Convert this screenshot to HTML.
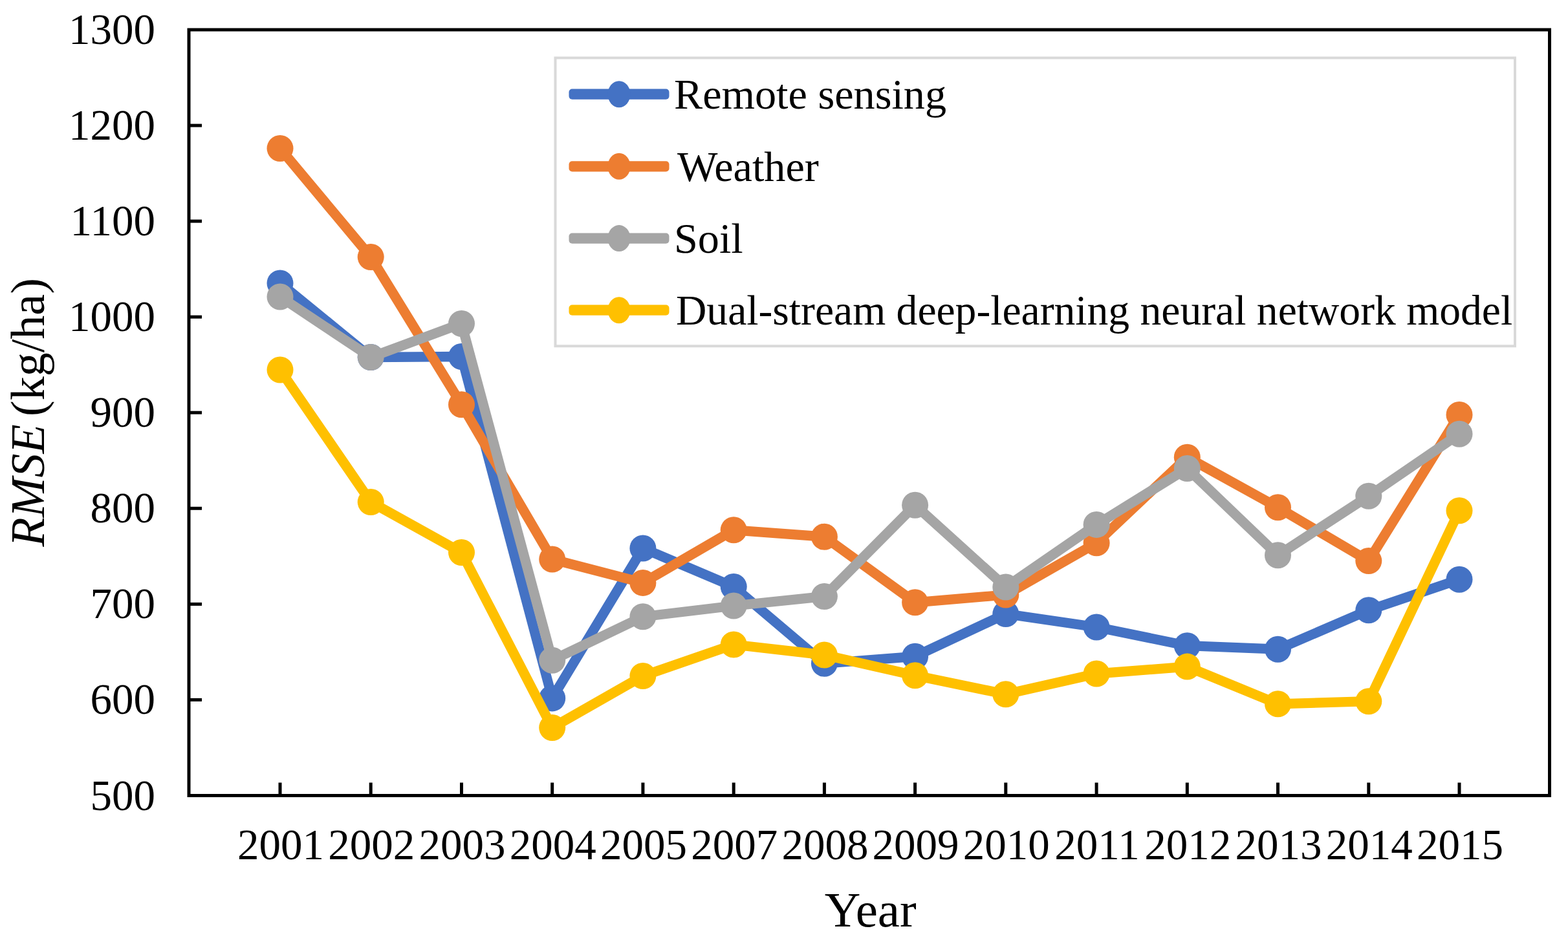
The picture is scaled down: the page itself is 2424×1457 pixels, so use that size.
<!DOCTYPE html>
<html><head><meta charset="utf-8"><title>RMSE chart</title>
<style>
html,body{margin:0;padding:0;background:#fff;}
svg{display:block;}
text{font-family:"Liberation Serif","Times New Roman",serif;fill:#000;}
</style></head><body>
<svg width="2424" height="1457" viewBox="0 0 2424 1457">
<rect x="0" y="0" width="2424" height="1457" fill="#fff"/>
<rect x="292" y="46" width="2103.5" height="1184.5" fill="none" stroke="#000" stroke-width="5"/>
<line x1="292" y1="1082.4" x2="312" y2="1082.4" stroke="#000" stroke-width="5"/>
<line x1="292" y1="934.4" x2="312" y2="934.4" stroke="#000" stroke-width="5"/>
<line x1="292" y1="786.3" x2="312" y2="786.3" stroke="#000" stroke-width="5"/>
<line x1="292" y1="638.2" x2="312" y2="638.2" stroke="#000" stroke-width="5"/>
<line x1="292" y1="490.2" x2="312" y2="490.2" stroke="#000" stroke-width="5"/>
<line x1="292" y1="342.1" x2="312" y2="342.1" stroke="#000" stroke-width="5"/>
<line x1="292" y1="194.1" x2="312" y2="194.1" stroke="#000" stroke-width="5"/>
<line x1="433.0" y1="1230.5" x2="433.0" y2="1210.5" stroke="#000" stroke-width="5"/>
<line x1="573.2" y1="1230.5" x2="573.2" y2="1210.5" stroke="#000" stroke-width="5"/>
<line x1="713.5" y1="1230.5" x2="713.5" y2="1210.5" stroke="#000" stroke-width="5"/>
<line x1="853.7" y1="1230.5" x2="853.7" y2="1210.5" stroke="#000" stroke-width="5"/>
<line x1="993.9" y1="1230.5" x2="993.9" y2="1210.5" stroke="#000" stroke-width="5"/>
<line x1="1134.2" y1="1230.5" x2="1134.2" y2="1210.5" stroke="#000" stroke-width="5"/>
<line x1="1274.4" y1="1230.5" x2="1274.4" y2="1210.5" stroke="#000" stroke-width="5"/>
<line x1="1414.6" y1="1230.5" x2="1414.6" y2="1210.5" stroke="#000" stroke-width="5"/>
<line x1="1554.8" y1="1230.5" x2="1554.8" y2="1210.5" stroke="#000" stroke-width="5"/>
<line x1="1695.1" y1="1230.5" x2="1695.1" y2="1210.5" stroke="#000" stroke-width="5"/>
<line x1="1835.3" y1="1230.5" x2="1835.3" y2="1210.5" stroke="#000" stroke-width="5"/>
<line x1="1975.5" y1="1230.5" x2="1975.5" y2="1210.5" stroke="#000" stroke-width="5"/>
<line x1="2115.8" y1="1230.5" x2="2115.8" y2="1210.5" stroke="#000" stroke-width="5"/>
<line x1="2256.0" y1="1230.5" x2="2256.0" y2="1210.5" stroke="#000" stroke-width="5"/>
<text x="240" y="1252.5" font-size="67" text-anchor="end">500</text>
<text x="240" y="1104.4" font-size="67" text-anchor="end">600</text>
<text x="240" y="956.4" font-size="67" text-anchor="end">700</text>
<text x="240" y="808.3" font-size="67" text-anchor="end">800</text>
<text x="240" y="660.2" font-size="67" text-anchor="end">900</text>
<text x="240" y="512.2" font-size="67" text-anchor="end">1000</text>
<text x="240" y="364.1" font-size="67" text-anchor="end">1100</text>
<text x="240" y="216.1" font-size="67" text-anchor="end">1200</text>
<text x="240" y="68.0" font-size="67" text-anchor="end">1300</text>
<text x="434.0" y="1329" font-size="67" text-anchor="middle">2001</text>
<text x="574.2" y="1329" font-size="67" text-anchor="middle">2002</text>
<text x="714.5" y="1329" font-size="67" text-anchor="middle">2003</text>
<text x="854.7" y="1329" font-size="67" text-anchor="middle">2004</text>
<text x="994.9" y="1329" font-size="67" text-anchor="middle">2005</text>
<text x="1135.2" y="1329" font-size="67" text-anchor="middle">2007</text>
<text x="1275.4" y="1329" font-size="67" text-anchor="middle">2008</text>
<text x="1415.6" y="1329" font-size="67" text-anchor="middle">2009</text>
<text x="1555.8" y="1329" font-size="67" text-anchor="middle">2010</text>
<text x="1696.1" y="1329" font-size="67" text-anchor="middle">2011</text>
<text x="1836.3" y="1329" font-size="67" text-anchor="middle">2012</text>
<text x="1976.5" y="1329" font-size="67" text-anchor="middle">2013</text>
<text x="2116.8" y="1329" font-size="67" text-anchor="middle">2014</text>
<text x="2257.0" y="1329" font-size="67" text-anchor="middle">2015</text>
<text x="1345.7" y="1433" font-size="77" text-anchor="middle">Year</text>
<text transform="translate(68,637.8) rotate(-90)" x="0" y="0" font-size="74" text-anchor="middle"><tspan font-style="italic">RMSE</tspan><tspan dx="-6"> (kg/ha)</tspan></text>
<g><polyline points="433.0,438.0 573.2,552.5 713.5,551.5 853.7,1079.9 993.9,848.0 1134.2,907.5 1274.4,1026.2 1414.6,1015.3 1554.8,949.5 1695.1,970.0 1835.3,998.7 1975.5,1004.2 2115.8,943.8 2256.0,896.2" fill="none" stroke="#4472C4" stroke-width="15.3" stroke-linejoin="round" stroke-linecap="round"/>
<circle cx="433.0" cy="438.0" r="20.5" fill="#4472C4"/><circle cx="573.2" cy="552.5" r="20.5" fill="#4472C4"/><circle cx="713.5" cy="551.5" r="20.5" fill="#4472C4"/><circle cx="853.7" cy="1079.9" r="20.5" fill="#4472C4"/><circle cx="993.9" cy="848.0" r="20.5" fill="#4472C4"/><circle cx="1134.2" cy="907.5" r="20.5" fill="#4472C4"/><circle cx="1274.4" cy="1026.2" r="20.5" fill="#4472C4"/><circle cx="1414.6" cy="1015.3" r="20.5" fill="#4472C4"/><circle cx="1554.8" cy="949.5" r="20.5" fill="#4472C4"/><circle cx="1695.1" cy="970.0" r="20.5" fill="#4472C4"/><circle cx="1835.3" cy="998.7" r="20.5" fill="#4472C4"/><circle cx="1975.5" cy="1004.2" r="20.5" fill="#4472C4"/><circle cx="2115.8" cy="943.8" r="20.5" fill="#4472C4"/><circle cx="2256.0" cy="896.2" r="20.5" fill="#4472C4"/></g>
<g><polyline points="433.0,229.5 573.2,397.5 713.5,625.8 853.7,865.0 993.9,901.4 1134.2,819.8 1274.4,830.2 1414.6,931.8 1554.8,920.0 1695.1,839.8 1835.3,707.2 1975.5,784.8 2115.8,867.5 2256.0,641.4" fill="none" stroke="#ED7D31" stroke-width="15.3" stroke-linejoin="round" stroke-linecap="round"/>
<circle cx="433.0" cy="229.5" r="20.5" fill="#ED7D31"/><circle cx="573.2" cy="397.5" r="20.5" fill="#ED7D31"/><circle cx="713.5" cy="625.8" r="20.5" fill="#ED7D31"/><circle cx="853.7" cy="865.0" r="20.5" fill="#ED7D31"/><circle cx="993.9" cy="901.4" r="20.5" fill="#ED7D31"/><circle cx="1134.2" cy="819.8" r="20.5" fill="#ED7D31"/><circle cx="1274.4" cy="830.2" r="20.5" fill="#ED7D31"/><circle cx="1414.6" cy="931.8" r="20.5" fill="#ED7D31"/><circle cx="1554.8" cy="920.0" r="20.5" fill="#ED7D31"/><circle cx="1695.1" cy="839.8" r="20.5" fill="#ED7D31"/><circle cx="1835.3" cy="707.2" r="20.5" fill="#ED7D31"/><circle cx="1975.5" cy="784.8" r="20.5" fill="#ED7D31"/><circle cx="2115.8" cy="867.5" r="20.5" fill="#ED7D31"/><circle cx="2256.0" cy="641.4" r="20.5" fill="#ED7D31"/></g>
<g><polyline points="433.0,459.0 573.2,552.5 713.5,500.5 853.7,1021.2 993.9,953.8 1134.2,937.0 1274.4,922.5 1414.6,781.3 1554.8,908.0 1695.1,811.4 1835.3,724.5 1975.5,858.8 2115.8,767.3 2256.0,671.2" fill="none" stroke="#A5A5A5" stroke-width="15.3" stroke-linejoin="round" stroke-linecap="round"/>
<circle cx="433.0" cy="459.0" r="20.5" fill="#A5A5A5"/><circle cx="573.2" cy="552.5" r="20.5" fill="#A5A5A5"/><circle cx="713.5" cy="500.5" r="20.5" fill="#A5A5A5"/><circle cx="853.7" cy="1021.2" r="20.5" fill="#A5A5A5"/><circle cx="993.9" cy="953.8" r="20.5" fill="#A5A5A5"/><circle cx="1134.2" cy="937.0" r="20.5" fill="#A5A5A5"/><circle cx="1274.4" cy="922.5" r="20.5" fill="#A5A5A5"/><circle cx="1414.6" cy="781.3" r="20.5" fill="#A5A5A5"/><circle cx="1554.8" cy="908.0" r="20.5" fill="#A5A5A5"/><circle cx="1695.1" cy="811.4" r="20.5" fill="#A5A5A5"/><circle cx="1835.3" cy="724.5" r="20.5" fill="#A5A5A5"/><circle cx="1975.5" cy="858.8" r="20.5" fill="#A5A5A5"/><circle cx="2115.8" cy="767.3" r="20.5" fill="#A5A5A5"/><circle cx="2256.0" cy="671.2" r="20.5" fill="#A5A5A5"/></g>
<g><polyline points="433.0,572.0 573.2,776.5 713.5,854.5 853.7,1125.5 993.9,1045.5 1134.2,997.0 1274.4,1013.0 1414.6,1044.8 1554.8,1073.8 1695.1,1042.0 1835.3,1031.1 1975.5,1088.8 2115.8,1084.7 2256.0,789.8" fill="none" stroke="#FFC000" stroke-width="15.3" stroke-linejoin="round" stroke-linecap="round"/>
<circle cx="433.0" cy="572.0" r="20.5" fill="#FFC000"/><circle cx="573.2" cy="776.5" r="20.5" fill="#FFC000"/><circle cx="713.5" cy="854.5" r="20.5" fill="#FFC000"/><circle cx="853.7" cy="1125.5" r="20.5" fill="#FFC000"/><circle cx="993.9" cy="1045.5" r="20.5" fill="#FFC000"/><circle cx="1134.2" cy="997.0" r="20.5" fill="#FFC000"/><circle cx="1274.4" cy="1013.0" r="20.5" fill="#FFC000"/><circle cx="1414.6" cy="1044.8" r="20.5" fill="#FFC000"/><circle cx="1554.8" cy="1073.8" r="20.5" fill="#FFC000"/><circle cx="1695.1" cy="1042.0" r="20.5" fill="#FFC000"/><circle cx="1835.3" cy="1031.1" r="20.5" fill="#FFC000"/><circle cx="1975.5" cy="1088.8" r="20.5" fill="#FFC000"/><circle cx="2115.8" cy="1084.7" r="20.5" fill="#FFC000"/><circle cx="2256.0" cy="789.8" r="20.5" fill="#FFC000"/></g>
<rect x="858.5" y="89.5" width="1483.5" height="445.8" fill="#fff" stroke="#d9d9d9" stroke-width="4"/>
<rect x="879.5" y="137.6" width="155" height="16.2" rx="5" fill="#4472C4"/><ellipse cx="957" cy="145.7" rx="17.5" ry="20.5" fill="#4472C4"/><text x="1042" y="168.0" font-size="66.2">Remote sensing</text>
<rect x="879.5" y="249.2" width="155" height="16.2" rx="5" fill="#ED7D31"/><ellipse cx="957" cy="257.3" rx="17.5" ry="20.5" fill="#ED7D31"/><text x="1047" y="279.6" font-size="66.2">Weather</text>
<rect x="879.5" y="360.5" width="155" height="16.2" rx="5" fill="#A5A5A5"/><ellipse cx="957" cy="368.6" rx="17.5" ry="20.5" fill="#A5A5A5"/><text x="1042" y="390.9" font-size="66.2">Soil</text>
<rect x="879.5" y="471.6" width="155" height="16.2" rx="5" fill="#FFC000"/><ellipse cx="957" cy="479.7" rx="17.5" ry="20.5" fill="#FFC000"/><text x="1045" y="502.0" font-size="65.6">Dual-stream deep-learning neural network model</text>
</svg>
</body></html>
